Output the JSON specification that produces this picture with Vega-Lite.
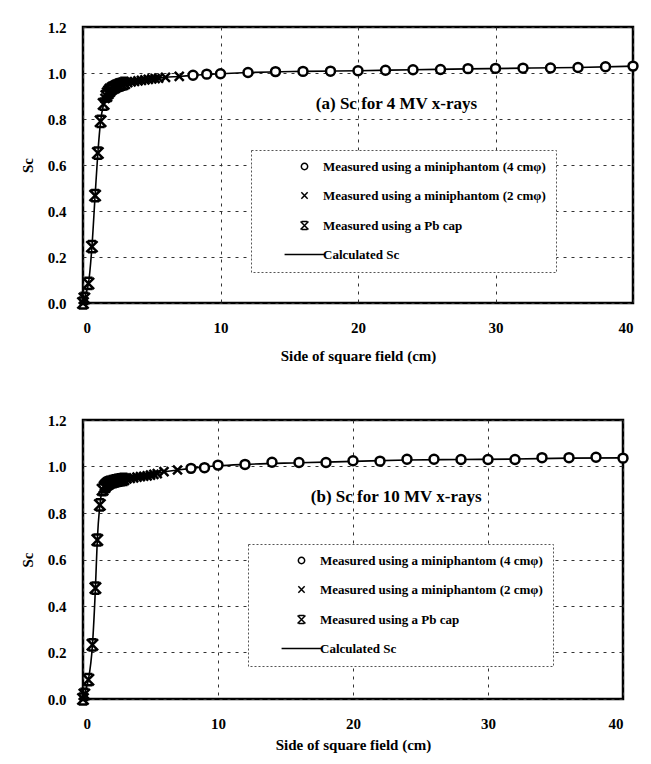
{
  "$schema": "https://vega.github.io/schema/vega-lite/v6.json",
  "padding": {"left": 19, "top": 18, "right": 10, "bottom": 5},
  "spacing": 46,
  "background": "white",
  "config": {
    "font": "Liberation Serif",
    "view": {"stroke": "black", "strokeWidth": 2.5},
    "axis": {
      "labelFont": "Liberation Serif", "labelFontSize": 15, "labelFontWeight": "bold", "labelColor": "black",
      "titleFont": "Liberation Serif", "titleFontSize": 15, "titleFontWeight": "bold", "titleColor": "black",
      "ticks": false, "domain": false,
      "gridColor": "#333", "gridDash": [3, 5], "gridWidth": 1
    },
    "axisX": {"labelPadding": 17, "titlePadding": 13},
    "axisY": {"labelPadding": 17, "titlePadding": 12},
    "legend": {
      "orient": "none", "title": null,
      "labelFont": "Liberation Serif", "labelFontSize": 13, "labelFontWeight": "bold", "labelColor": "black", "labelLimit": 0,
      "strokeColor": "#555", "strokeDash": [2, 2], "fillColor": "white",
      "padding": 10, "rowPadding": 15, "symbolSize": 40, "symbolOffset": 37, "labelOffset": 12
    }
  },
  "resolve": {"scale": {"shape": "independent"}, "legend": {"shape": "independent"}},
  "datasets": {
    "a_meas": [
      {"x": 0, "y": 0.0, "series": "Measured using a Pb cap"},
      {"x": 0.1, "y": 0.02, "series": "Measured using a Pb cap"},
      {"x": 0.4, "y": 0.085, "series": "Measured using a Pb cap"},
      {"x": 0.65, "y": 0.245, "series": "Measured using a Pb cap"},
      {"x": 0.88, "y": 0.467, "series": "Measured using a Pb cap"},
      {"x": 1.08, "y": 0.652, "series": "Measured using a Pb cap"},
      {"x": 1.28, "y": 0.79, "series": "Measured using a Pb cap"},
      {"x": 1.5, "y": 0.865, "series": "Measured using a Pb cap"},
      {"x": 1.7, "y": 0.9, "series": "Measured using a Pb cap"},
      {"x": 1.8, "y": 0.912, "series": "Measured using a Pb cap"},
      {"x": 1.9, "y": 0.921, "series": "Measured using a Pb cap"},
      {"x": 2.0, "y": 0.928, "series": "Measured using a Pb cap"},
      {"x": 2.2, "y": 0.936, "series": "Measured using a Pb cap"},
      {"x": 2.4, "y": 0.942, "series": "Measured using a Pb cap"},
      {"x": 2.6, "y": 0.947, "series": "Measured using a Pb cap"},
      {"x": 2.8, "y": 0.951, "series": "Measured using a Pb cap"},
      {"x": 3.0, "y": 0.955, "series": "Measured using a Pb cap"},
      {"x": 1.6, "y": 0.89, "series": "Measured using a miniphantom (2 cmφ)"},
      {"x": 1.8, "y": 0.915, "series": "Measured using a miniphantom (2 cmφ)"},
      {"x": 2.0, "y": 0.93, "series": "Measured using a miniphantom (2 cmφ)"},
      {"x": 2.25, "y": 0.939, "series": "Measured using a miniphantom (2 cmφ)"},
      {"x": 2.5, "y": 0.946, "series": "Measured using a miniphantom (2 cmφ)"},
      {"x": 2.75, "y": 0.95, "series": "Measured using a miniphantom (2 cmφ)"},
      {"x": 3.0, "y": 0.954, "series": "Measured using a miniphantom (2 cmφ)"},
      {"x": 3.25, "y": 0.958, "series": "Measured using a miniphantom (2 cmφ)"},
      {"x": 3.5, "y": 0.961, "series": "Measured using a miniphantom (2 cmφ)"},
      {"x": 3.75, "y": 0.963, "series": "Measured using a miniphantom (2 cmφ)"},
      {"x": 4.0, "y": 0.966, "series": "Measured using a miniphantom (2 cmφ)"},
      {"x": 4.25, "y": 0.968, "series": "Measured using a miniphantom (2 cmφ)"},
      {"x": 4.5, "y": 0.97, "series": "Measured using a miniphantom (2 cmφ)"},
      {"x": 4.75, "y": 0.972, "series": "Measured using a miniphantom (2 cmφ)"},
      {"x": 5.0, "y": 0.974, "series": "Measured using a miniphantom (2 cmφ)"},
      {"x": 5.25, "y": 0.976, "series": "Measured using a miniphantom (2 cmφ)"},
      {"x": 5.5, "y": 0.978, "series": "Measured using a miniphantom (2 cmφ)"},
      {"x": 6, "y": 0.981, "series": "Measured using a miniphantom (2 cmφ)"},
      {"x": 7, "y": 0.985, "series": "Measured using a miniphantom (2 cmφ)"},
      {"x": 8, "y": 0.99, "series": "Measured using a miniphantom (4 cmφ)"},
      {"x": 9, "y": 0.995, "series": "Measured using a miniphantom (4 cmφ)"},
      {"x": 10, "y": 0.997, "series": "Measured using a miniphantom (4 cmφ)"},
      {"x": 12, "y": 1.002, "series": "Measured using a miniphantom (4 cmφ)"},
      {"x": 14, "y": 1.006, "series": "Measured using a miniphantom (4 cmφ)"},
      {"x": 16, "y": 1.007, "series": "Measured using a miniphantom (4 cmφ)"},
      {"x": 18, "y": 1.008, "series": "Measured using a miniphantom (4 cmφ)"},
      {"x": 20, "y": 1.01, "series": "Measured using a miniphantom (4 cmφ)"},
      {"x": 22, "y": 1.012, "series": "Measured using a miniphantom (4 cmφ)"},
      {"x": 24, "y": 1.014, "series": "Measured using a miniphantom (4 cmφ)"},
      {"x": 26, "y": 1.015, "series": "Measured using a miniphantom (4 cmφ)"},
      {"x": 28, "y": 1.019, "series": "Measured using a miniphantom (4 cmφ)"},
      {"x": 30, "y": 1.02, "series": "Measured using a miniphantom (4 cmφ)"},
      {"x": 32, "y": 1.021, "series": "Measured using a miniphantom (4 cmφ)"},
      {"x": 34, "y": 1.022, "series": "Measured using a miniphantom (4 cmφ)"},
      {"x": 36, "y": 1.024, "series": "Measured using a miniphantom (4 cmφ)"},
      {"x": 38, "y": 1.027, "series": "Measured using a miniphantom (4 cmφ)"},
      {"x": 40, "y": 1.03, "series": "Measured using a miniphantom (4 cmφ)"}
    ],
    "a_calc": [
      {"x": 0, "y": 0}, {"x": 0.1, "y": 0.02}, {"x": 0.2, "y": 0.04}, {"x": 0.4, "y": 0.085},
      {"x": 0.65, "y": 0.245}, {"x": 0.88, "y": 0.467}, {"x": 1.08, "y": 0.652}, {"x": 1.28, "y": 0.79},
      {"x": 1.5, "y": 0.865}, {"x": 1.7, "y": 0.9}, {"x": 2, "y": 0.928}, {"x": 2.5, "y": 0.946},
      {"x": 3, "y": 0.955}, {"x": 4, "y": 0.966}, {"x": 5, "y": 0.974}, {"x": 6, "y": 0.981},
      {"x": 7, "y": 0.985}, {"x": 8, "y": 0.99}, {"x": 10, "y": 0.997}, {"x": 12, "y": 1.002},
      {"x": 16, "y": 1.007}, {"x": 20, "y": 1.01}, {"x": 24, "y": 1.014}, {"x": 28, "y": 1.018},
      {"x": 32, "y": 1.021}, {"x": 36, "y": 1.024}, {"x": 40, "y": 1.03}
    ],
    "b_meas": [
      {"x": 0, "y": 0.0, "series": "Measured using a Pb cap"},
      {"x": 0.1, "y": 0.02, "series": "Measured using a Pb cap"},
      {"x": 0.4, "y": 0.083, "series": "Measured using a Pb cap"},
      {"x": 0.7, "y": 0.233, "series": "Measured using a Pb cap"},
      {"x": 0.92, "y": 0.477, "series": "Measured using a Pb cap"},
      {"x": 1.06, "y": 0.684, "series": "Measured using a Pb cap"},
      {"x": 1.25, "y": 0.835, "series": "Measured using a Pb cap"},
      {"x": 1.45, "y": 0.9, "series": "Measured using a Pb cap"},
      {"x": 1.6, "y": 0.912, "series": "Measured using a Pb cap"},
      {"x": 1.7, "y": 0.92, "series": "Measured using a Pb cap"},
      {"x": 1.8, "y": 0.925, "series": "Measured using a Pb cap"},
      {"x": 1.9, "y": 0.929, "series": "Measured using a Pb cap"},
      {"x": 2.0, "y": 0.932, "series": "Measured using a Pb cap"},
      {"x": 2.2, "y": 0.935, "series": "Measured using a Pb cap"},
      {"x": 2.4, "y": 0.938, "series": "Measured using a Pb cap"},
      {"x": 2.6, "y": 0.941, "series": "Measured using a Pb cap"},
      {"x": 2.8, "y": 0.943, "series": "Measured using a Pb cap"},
      {"x": 3.0, "y": 0.945, "series": "Measured using a Pb cap"},
      {"x": 1.6, "y": 0.915, "series": "Measured using a miniphantom (2 cmφ)"},
      {"x": 1.8, "y": 0.926, "series": "Measured using a miniphantom (2 cmφ)"},
      {"x": 2.0, "y": 0.932, "series": "Measured using a miniphantom (2 cmφ)"},
      {"x": 2.25, "y": 0.936, "series": "Measured using a miniphantom (2 cmφ)"},
      {"x": 2.5, "y": 0.94, "series": "Measured using a miniphantom (2 cmφ)"},
      {"x": 2.75, "y": 0.942, "series": "Measured using a miniphantom (2 cmφ)"},
      {"x": 3.0, "y": 0.945, "series": "Measured using a miniphantom (2 cmφ)"},
      {"x": 3.25, "y": 0.947, "series": "Measured using a miniphantom (2 cmφ)"},
      {"x": 3.5, "y": 0.949, "series": "Measured using a miniphantom (2 cmφ)"},
      {"x": 3.75, "y": 0.951, "series": "Measured using a miniphantom (2 cmφ)"},
      {"x": 4.0, "y": 0.954, "series": "Measured using a miniphantom (2 cmφ)"},
      {"x": 4.25, "y": 0.956, "series": "Measured using a miniphantom (2 cmφ)"},
      {"x": 4.5, "y": 0.958, "series": "Measured using a miniphantom (2 cmφ)"},
      {"x": 4.75, "y": 0.96, "series": "Measured using a miniphantom (2 cmφ)"},
      {"x": 5.0, "y": 0.963, "series": "Measured using a miniphantom (2 cmφ)"},
      {"x": 5.25, "y": 0.966, "series": "Measured using a miniphantom (2 cmφ)"},
      {"x": 5.5, "y": 0.969, "series": "Measured using a miniphantom (2 cmφ)"},
      {"x": 6, "y": 0.978, "series": "Measured using a miniphantom (2 cmφ)"},
      {"x": 7, "y": 0.985, "series": "Measured using a miniphantom (2 cmφ)"},
      {"x": 8, "y": 0.992, "series": "Measured using a miniphantom (4 cmφ)"},
      {"x": 9, "y": 0.995, "series": "Measured using a miniphantom (4 cmφ)"},
      {"x": 10, "y": 1.006, "series": "Measured using a miniphantom (4 cmφ)"},
      {"x": 12, "y": 1.009, "series": "Measured using a miniphantom (4 cmφ)"},
      {"x": 14, "y": 1.018, "series": "Measured using a miniphantom (4 cmφ)"},
      {"x": 16, "y": 1.017, "series": "Measured using a miniphantom (4 cmφ)"},
      {"x": 18, "y": 1.017, "series": "Measured using a miniphantom (4 cmφ)"},
      {"x": 20, "y": 1.025, "series": "Measured using a miniphantom (4 cmφ)"},
      {"x": 22, "y": 1.023, "series": "Measured using a miniphantom (4 cmφ)"},
      {"x": 24, "y": 1.031, "series": "Measured using a miniphantom (4 cmφ)"},
      {"x": 26, "y": 1.031, "series": "Measured using a miniphantom (4 cmφ)"},
      {"x": 28, "y": 1.03, "series": "Measured using a miniphantom (4 cmφ)"},
      {"x": 30, "y": 1.03, "series": "Measured using a miniphantom (4 cmφ)"},
      {"x": 32, "y": 1.03, "series": "Measured using a miniphantom (4 cmφ)"},
      {"x": 34, "y": 1.038, "series": "Measured using a miniphantom (4 cmφ)"},
      {"x": 36, "y": 1.038, "series": "Measured using a miniphantom (4 cmφ)"},
      {"x": 38, "y": 1.04, "series": "Measured using a miniphantom (4 cmφ)"},
      {"x": 40, "y": 1.036, "series": "Measured using a miniphantom (4 cmφ)"}
    ],
    "b_calc": [
      {"x": 0, "y": 0}, {"x": 0.1, "y": 0.02}, {"x": 0.2, "y": 0.04}, {"x": 0.4, "y": 0.083},
      {"x": 0.7, "y": 0.233}, {"x": 0.92, "y": 0.477}, {"x": 1.06, "y": 0.684}, {"x": 1.25, "y": 0.835},
      {"x": 1.45, "y": 0.9}, {"x": 1.7, "y": 0.92}, {"x": 2, "y": 0.932}, {"x": 2.5, "y": 0.94},
      {"x": 3, "y": 0.945}, {"x": 4, "y": 0.954}, {"x": 5, "y": 0.963}, {"x": 6, "y": 0.977},
      {"x": 7, "y": 0.985}, {"x": 8, "y": 0.992}, {"x": 10, "y": 1.003}, {"x": 12, "y": 1.009},
      {"x": 16, "y": 1.016}, {"x": 20, "y": 1.022}, {"x": 24, "y": 1.028}, {"x": 28, "y": 1.03},
      {"x": 32, "y": 1.032}, {"x": 36, "y": 1.036}, {"x": 40, "y": 1.037}
    ]
  },
  "vconcat": [
    {
      "width": 550, "height": 276,
      "layer": [
        {
          "data": {"name": "a_calc"},
          "mark": {"type": "line", "color": "black", "strokeWidth": 1.6, "interpolate": "monotone"},
          "encoding": {
            "x": {"field": "x", "type": "quantitative", "scale": {"domain": [0, 40], "nice": false}, "axis": {"values": [0, 10, 20, 30, 40], "title": "Side of square field (cm)"}},
            "y": {"field": "y", "type": "quantitative", "scale": {"domain": [0, 1.2], "nice": false}, "axis": {"values": [0, 0.2, 0.4, 0.6, 0.8, 1.0, 1.2], "format": ".1f", "title": "Sc"}}
          }
        },
        {
          "data": {"name": "a_meas"},
          "mark": {"type": "point", "filled": false, "fill": "white", "color": "black", "stroke": "black", "strokeWidth": 2.5, "size": 80, "opacity": 1},
          "encoding": {
            "x": {"field": "x", "type": "quantitative"},
            "y": {"field": "y", "type": "quantitative"},
            "shape": {
              "field": "series", "type": "nominal",
              "scale": {
                "domain": ["Measured using a miniphantom (4 cmφ)", "Measured using a miniphantom (2 cmφ)", "Measured using a Pb cap", "Calculated Sc"],
                "range": ["circle", "M-1,-1L1,1M1,-1L-1,1", "M-1.25,-1.25L1.25,1.25M1.25,-1.25L-1.25,1.25M-0.9,-1.25H0.9M-0.9,1.25H0.9", "M-6.3,0H6.3"]
              },
              "legend": {
                "legendX": 168, "legendY": 123,
                "encode": {"symbols": {
                  "enter": {"fill": {"value": "black"}},
                  "update": {"stroke": {"value": "black"}, "strokeWidth": {"value": 2}, "fill": {"value": "black"}, "opacity": {"value": 1}}
                }}
              }
            }
          }
        },
        {
          "data": {"values": [{}]},
          "mark": {"type": "text", "font": "Liberation Serif", "fontSize": 17, "fontWeight": "bold", "color": "black", "align": "center", "baseline": "middle"},
          "encoding": {
            "x": {"datum": 22.8},
            "y": {"datum": 0.865},
            "text": {"value": "(a) Sc for 4 MV x-rays"}
          }
        }
      ]
    },
    {
      "width": 540, "height": 279,
      "layer": [
        {
          "data": {"name": "b_calc"},
          "mark": {"type": "line", "color": "black", "strokeWidth": 1.6, "interpolate": "monotone"},
          "encoding": {
            "x": {"field": "x", "type": "quantitative", "scale": {"domain": [0, 40], "nice": false}, "axis": {"values": [0, 10, 20, 30, 40], "title": "Side of square field (cm)", "labelPadding": 17, "titlePadding": 6}},
            "y": {"field": "y", "type": "quantitative", "scale": {"domain": [0, 1.2], "nice": false}, "axis": {"values": [0, 0.2, 0.4, 0.6, 0.8, 1.0, 1.2], "format": ".1f", "title": "Sc"}}
          }
        },
        {
          "data": {"name": "b_meas"},
          "mark": {"type": "point", "filled": false, "fill": "white", "color": "black", "stroke": "black", "strokeWidth": 2.5, "size": 80, "opacity": 1},
          "encoding": {
            "x": {"field": "x", "type": "quantitative"},
            "y": {"field": "y", "type": "quantitative"},
            "shape": {
              "field": "series", "type": "nominal",
              "scale": {
                "domain": ["Measured using a miniphantom (4 cmφ)", "Measured using a miniphantom (2 cmφ)", "Measured using a Pb cap", "Calculated Sc"],
                "range": ["circle", "M-1,-1L1,1M1,-1L-1,1", "M-1.25,-1.25L1.25,1.25M1.25,-1.25L-1.25,1.25M-0.9,-1.25H0.9M-0.9,1.25H0.9", "M-6.3,0H6.3"]
              },
              "legend": {
                "legendX": 165, "legendY": 124,
                "encode": {"symbols": {
                  "enter": {"fill": {"value": "black"}},
                  "update": {"stroke": {"value": "black"}, "strokeWidth": {"value": 2}, "fill": {"value": "black"}, "opacity": {"value": 1}}
                }}
              }
            }
          }
        },
        {
          "data": {"values": [{}]},
          "mark": {"type": "text", "font": "Liberation Serif", "fontSize": 17, "fontWeight": "bold", "color": "black", "align": "center", "baseline": "middle"},
          "encoding": {
            "x": {"datum": 23.2},
            "y": {"datum": 0.869},
            "text": {"value": "(b) Sc for 10 MV x-rays"}
          }
        }
      ]
    }
  ]
}
